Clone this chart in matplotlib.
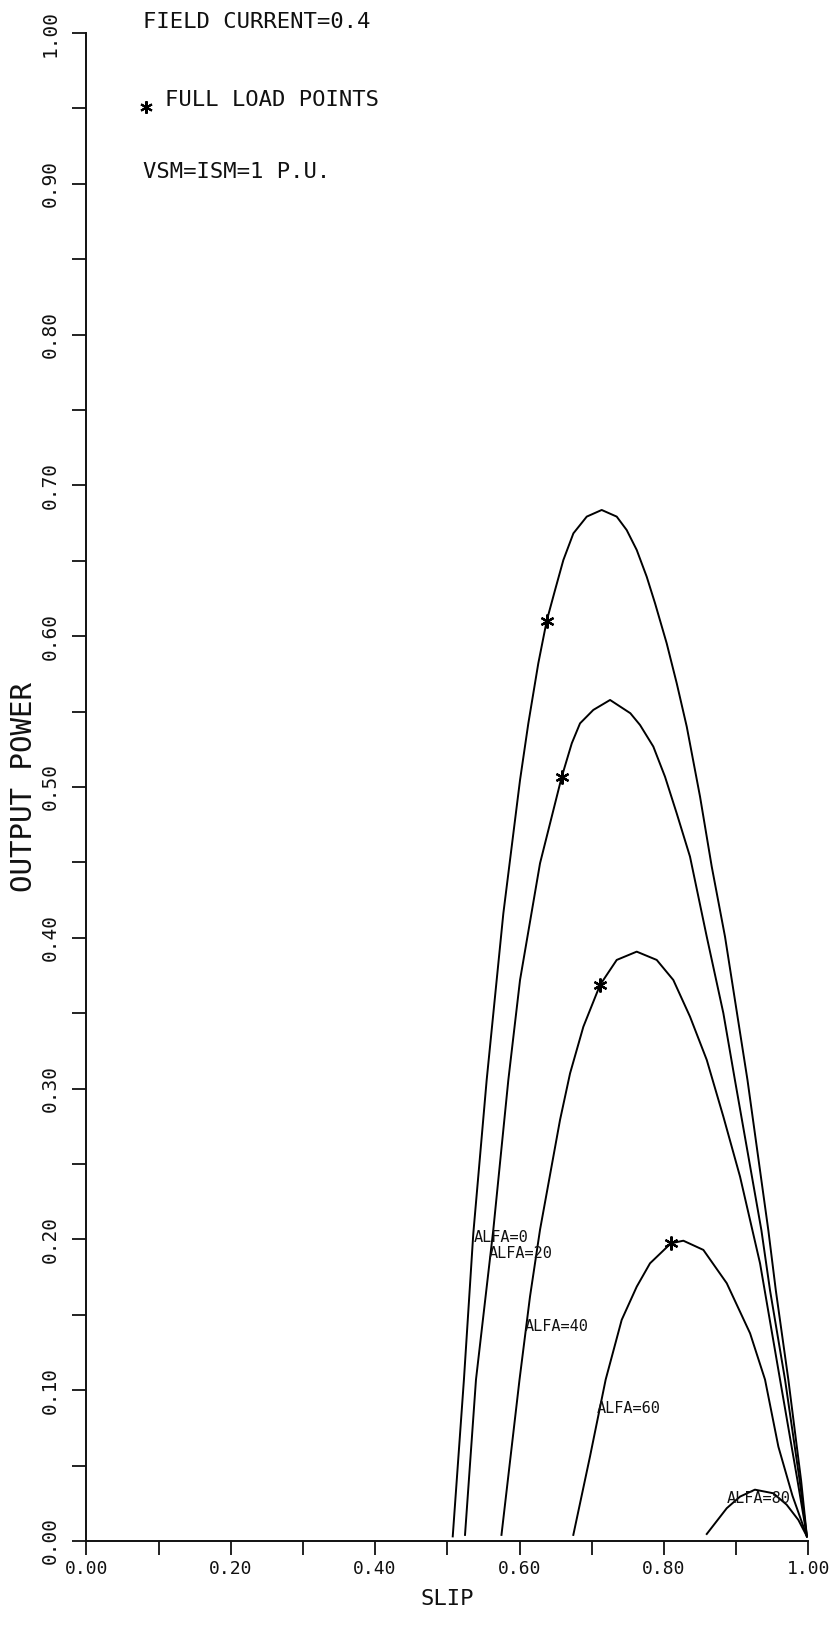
import matplotlib
matplotlib.use('Agg')
import matplotlib.pyplot as plt

plt.rcParams['font.family'] = ['DejaVu Sans Mono']

# output power vs slip, one curve per firing angle
slip_a0 = [0.5075, 0.523, 0.536, 0.5545, 0.5776, 0.6007, 0.6122, 0.626, 0.6377, 0.6492,
           0.6607, 0.6746, 0.6931, 0.7138, 0.7346, 0.7484, 0.7623, 0.7761, 0.7877, 0.8038,
           0.8177, 0.8316, 0.850, 0.8662, 0.8846, 0.9157, 0.9446, 0.955, 0.9723, 0.990, 0.998]
power_a0 = [0.003, 0.107, 0.204, 0.3057, 0.4162, 0.5046, 0.5422, 0.582, 0.6103, 0.6306,
            0.6505, 0.6682, 0.6793, 0.6837, 0.6793, 0.6704, 0.6572, 0.6395, 0.6218, 0.5953,
            0.5688, 0.540, 0.4936, 0.4472, 0.4007, 0.3057, 0.206, 0.166, 0.107, 0.040, 0.003]

slip_a20 = [0.5245, 0.5397, 0.5637, 0.5845, 0.6007, 0.6284, 0.6584, 0.6724, 0.6838, 0.7022,
            0.7254, 0.7535, 0.7669, 0.7853, 0.8015, 0.8177, 0.8361, 0.8593, 0.8823, 0.8983,
            0.935, 0.947, 0.9677, 0.988, 0.998]
power_a20 = [0.004, 0.107, 0.2064, 0.3057, 0.372, 0.4494, 0.5066, 0.529, 0.5422, 0.5511,
             0.5577, 0.5489, 0.5411, 0.5268, 0.5068, 0.4825, 0.4538, 0.4007, 0.35, 0.3057,
             0.206, 0.166, 0.107, 0.040, 0.003]

slip_a40 = [0.575, 0.600, 0.6145, 0.6284, 0.6561, 0.670, 0.6884, 0.7115, 0.7346, 0.7623,
            0.790, 0.813, 0.8361, 0.8593, 0.8823, 0.9054, 0.9331, 0.9608, 0.985, 0.998]
power_a40 = [0.004, 0.107, 0.162, 0.2064, 0.2792, 0.3101, 0.341, 0.3687, 0.3853, 0.3908,
             0.3853, 0.372, 0.3477, 0.319, 0.2814, 0.2416, 0.1841, 0.107, 0.040, 0.003]

slip_a60 = [0.6745, 0.6976, 0.7193, 0.7415, 0.7623, 0.7807, 0.8097, 0.8269, 0.8546, 0.887,
            0.9193, 0.940, 0.9585, 0.978, 0.998]
power_a60 = [0.004, 0.056, 0.107, 0.1466, 0.1686, 0.1841, 0.1974, 0.1991, 0.193, 0.1709,
             0.1377, 0.107, 0.0625, 0.030, 0.003]

slip_a80 = [0.8593, 0.887, 0.9054, 0.926, 0.9515, 0.970, 0.9862, 0.998]
power_a80 = [0.0046, 0.0217, 0.0294, 0.034, 0.0316, 0.024, 0.0139, 0.003]

# full load points
star_slip = [0.6377, 0.6584, 0.7115, 0.8097]
star_power = [0.6103, 0.5066, 0.3687, 0.1974]

curve_labels = ['ALFA=0', 'ALFA=20', 'ALFA=40', 'ALFA=60', 'ALFA=80']
label_x = [0.5363, 0.557, 0.6076, 0.7069, 0.887]
label_y = [0.2014, 0.1903, 0.1421, 0.088, 0.0283]

fig = plt.figure(figsize=(8.33, 16.27), dpi=100)
ax = fig.add_axes([0.1036, 0.0529, 0.8668, 0.9268])

for s, p in [(slip_a0, power_a0), (slip_a20, power_a20), (slip_a40, power_a40),
             (slip_a60, power_a60), (slip_a80, power_a80)]:
    ax.plot(s, p, color='black', linewidth=1.4, solid_joinstyle='round')

ax.plot(star_slip, star_power, linestyle='none', marker=(6, 2, 0), markersize=10,
        markeredgewidth=1.6, color='black')

for txt, lx, ly in zip(curve_labels, label_x, label_y):
    ax.text(lx, ly, txt, fontsize=11, ha='left', va='center', color='#111111')

ax.set_xlim(0, 1.0)
ax.set_ylim(0, 1.0)

xt = [i / 10 for i in range(11)]
ax.set_xticks(xt)
ax.set_xticklabels(['%.2f' % v if i % 2 == 0 else '' for i, v in enumerate(xt)])
yt = [i / 20 for i in range(21)]
ax.set_yticks(yt)
ax.set_yticklabels(['%.2f' % v if i % 2 == 0 else '' for i, v in enumerate(yt)],
                   rotation=90, va='center')

ax.tick_params(axis='both', direction='out', length=10, width=1.3, labelsize=13,
               colors='#111111')
ax.tick_params(axis='x', pad=4)
ax.tick_params(axis='y', pad=9, labelsize=14)

for side in ['top', 'right']:
    ax.spines[side].set_visible(False)
for side in ['left', 'bottom']:
    ax.spines[side].set_linewidth(1.4)
    ax.spines[side].set_color('#111111')

ax.set_xlabel('SLIP', fontsize=16, labelpad=8, color='#111111')
ax.set_ylabel('OUTPUT POWER', fontsize=21, labelpad=2, color='#111111')

fig.text(143 / 833, 1 - 22 / 1627, 'FIELD CURRENT=0.4', fontsize=16, va='center',
         color='#111111')
fig.text(165 / 833, 1 - 100 / 1627, 'FULL LOAD POINTS', fontsize=16, va='center',
         color='#111111')
fig.text(143 / 833, 1 - 172 / 1627, 'VSM=ISM=1 P.U.', fontsize=16, va='center',
         color='#111111')
# star symbol in the note
fig.lines.append(plt.Line2D([146 / 833], [1 - 107 / 1627], transform=fig.transFigure,
                            linestyle='none', marker=(6, 2, 0), markersize=9,
                            markeredgewidth=1.5, color='black'))

fig.savefig('out.png', dpi=100)
